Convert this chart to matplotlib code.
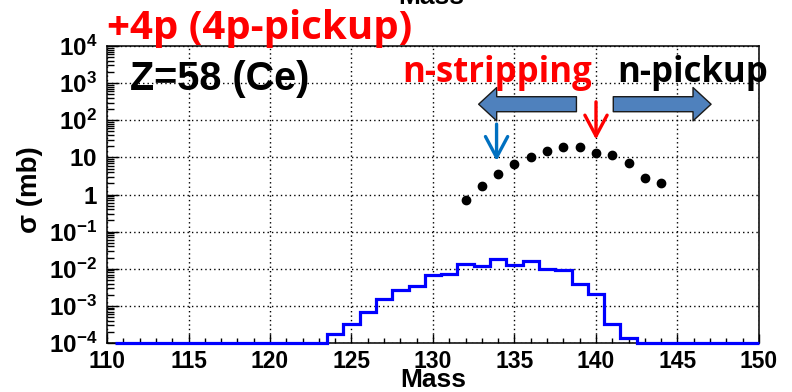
import numpy as np
import matplotlib
matplotlib.use("Agg")
import matplotlib.pyplot as plt
from matplotlib.ticker import FixedLocator, LogLocator, NullFormatter, FixedFormatter, MultipleLocator

# Measured cross sections (mb) of Ce isotopes
mass_meas = [132, 133, 134, 135, 136, 137, 138, 139, 140, 141, 142, 143, 144]
sigma_meas = [0.72, 1.67, 3.6, 6.8, 10.5, 14.4, 18.8, 18.8, 13.3, 11.7, 7.0, 2.75, 2.07]

# Calculated distribution, one bin per mass number
hist_mass = list(range(111, 151))
hist_sigma = ([0.0] * 13 +
              [1.7e-4, 3.3e-4, 7.0e-4, 1.5e-3, 2.7e-3, 3.5e-3, 6.7e-3, 7.3e-3,
               0.0132, 0.0122, 0.0185, 0.0130, 0.0163, 0.0100, 0.0093, 3.8e-3,
               2.1e-3, 3.2e-4, 1.35e-4] +
              [0.0] * 8)

x_major = [110, 115, 120, 125, 130, 135, 140, 145, 150]
y_major = [1e-4, 1e-3, 1e-2, 1e-1, 1, 10, 1e2, 1e3, 1e4]
y_labels = [r"$10^{-4}$", r"$10^{-3}$", r"$10^{-2}$", r"$10^{-1}$", r"$1$",
            r"$10$", r"$10^{2}$", r"$10^{3}$", r"$10^{4}$"]

XMIN, XMAX = 110, 150
YMIN, YMAX = 1e-4, 1e4

plt.rcParams["font.family"] = ["Liberation Sans", "DejaVu Sans"]
plt.rcParams["font.weight"] = "bold"
plt.rcParams["mathtext.fontset"] = "custom"
plt.rcParams["mathtext.rm"] = "Liberation Sans:bold"
plt.rcParams["mathtext.it"] = "Liberation Sans:bold"
plt.rcParams["mathtext.bf"] = "Liberation Sans:bold"

W, H = 792, 392
fig = plt.figure(figsize=(W / 100, H / 100), dpi=100)
ax = fig.add_axes([107 / W, 1 - 343 / H, (759 - 107) / W, (343 - 46) / H])

ax.set_xlim(XMIN, XMAX)
ax.set_yscale("log")
ax.set_ylim(YMIN, YMAX)

# grid on major positions
ax.xaxis.set_major_locator(FixedLocator(x_major))
ax.xaxis.set_minor_locator(MultipleLocator(1))
ax.yaxis.set_major_locator(FixedLocator(y_major))
ax.yaxis.set_major_formatter(FixedFormatter(y_labels))
ax.yaxis.set_minor_locator(LogLocator(base=10, subs=np.arange(2, 10), numticks=20))
ax.yaxis.set_minor_formatter(NullFormatter())
ax.grid(True, which="major", color="black", linestyle=(0, (1, 2.2)), linewidth=1.0)

ax.tick_params(axis="both", which="both", direction="in", top=False, right=False,
               colors="black", width=1.0)
ax.tick_params(axis="y", which="major", length=8.6, pad=7, labelsize=17.5)
ax.tick_params(axis="y", which="minor", length=5)
ax.tick_params(axis="x", which="major", length=6.5, pad=5, labelsize=16.5)
ax.tick_params(axis="x", which="minor", length=3.6)
for lab in ax.get_xticklabels() + ax.get_yticklabels():
    lab.set_fontweight("bold")
for sp in ax.spines.values():
    sp.set_linewidth(1.1)
    sp.set_color("black")

# histogram (empty bins rest on the lower edge of the frame)
edges = np.clip(np.append(np.array(hist_mass) - 0.5, hist_mass[-1] + 0.5), XMIN, XMAX)
vals = np.maximum(np.array(hist_sigma), YMIN)
ax.stairs(vals, edges, baseline=None, color="#0000ff", linewidth=2.3, zorder=4,
          clip_on=False)

# measured points
ax.plot(mass_meas, sigma_meas, linestyle="none", marker="o", markersize=6.0,
        color="black", zorder=5)

ax.set_xlabel("Mass", fontsize=19, fontweight="bold")
ax.xaxis.label.set_va("baseline")
ax.xaxis.set_label_coords(0.5, -(387 - 343) / 297)
ax.set_ylabel(r"σ (mb)", fontsize=20, fontweight="bold")
ax.yaxis.label.set_va("center")
ax.yaxis.set_label_coords((30 - 107) / 652, (343 - 190) / 297)

# block arrows showing the two directions
blk = dict(arrowstyle="simple,head_length=13,head_width=24,tail_width=10.8",
           mutation_scale=1, facecolor="#4F81BD", edgecolor="#1a1a1a",
           linewidth=1.0, shrinkA=0, shrinkB=0)
ax.annotate("", xy=(132.8, 0.804), xytext=(138.8, 0.804),
            xycoords=("data", "axes fraction"), textcoords=("data", "axes fraction"),
            arrowprops=blk, annotation_clip=False)
ax.annotate("", xy=(147.06, 0.804), xytext=(141.06, 0.804),
            xycoords=("data", "axes fraction"), textcoords=("data", "axes fraction"),
            arrowprops=blk, annotation_clip=False)

# markers at specific isotopes
ax.annotate("", xy=(140.0, 0.685), xytext=(140.0, 0.812),
            xycoords=("data", "axes fraction"), textcoords=("data", "axes fraction"),
            arrowprops=dict(arrowstyle="->,head_length=15,head_width=8",
                            mutation_scale=1, color="#ff0000", linewidth=2.4,
                            shrinkA=0, shrinkB=0))
ax.annotate("", xy=(133.9, 0.613), xytext=(133.9, 0.737),
            xycoords=("data", "axes fraction"), textcoords=("data", "axes fraction"),
            arrowprops=dict(arrowstyle="->,head_length=15,head_width=8",
                            mutation_scale=1, color="#0070C0", linewidth=2.4,
                            shrinkA=0, shrinkB=0))

# labels
fig.text(107 / W, 1 - 39 / H, "+4p (4p-pickup)", color="#ff0000", fontsize=29,
         fontweight="bold", family=["Open Sans", "DejaVu Sans"], ha="left", va="baseline")
fig.text(130 / W, 1 - 89.5 / H, "Z=58 (Ce)", color="black", fontsize=28.5,
         fontweight="bold", ha="left", va="baseline")
fig.text(402.7 / W, 1 - 81.7 / H, "n-stripping", color="#ff0000", fontsize=25,
         fontweight="bold", family=["Open Sans", "DejaVu Sans"], ha="left", va="baseline")
fig.text(617 / W, 1 - 81.7 / H, "n-pickup", color="black", fontsize=25,
         fontweight="bold", family=["Open Sans", "DejaVu Sans"], ha="left", va="baseline")
fig.text(431 / W, 1 - 4 / H, "Mass", color="black", fontsize=19,
         fontweight="bold", ha="center", va="baseline")

fig.savefig("out.png", dpi=100)
